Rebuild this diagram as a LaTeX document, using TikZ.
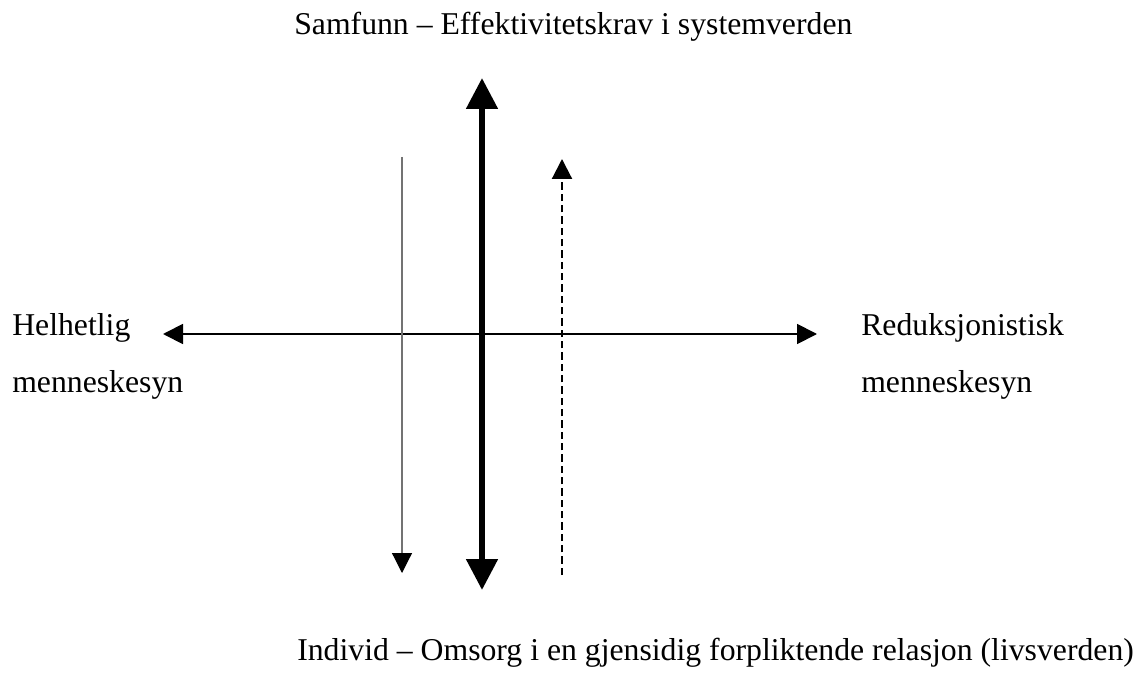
\documentclass[tikz,border=0pt]{standalone}
\usepackage{fontspec}
\setmainfont{Liberation Serif}
\usetikzlibrary{arrows.meta}
\begin{document}
\begin{tikzpicture}[x=0.75pt,y=-0.75pt,
  lbl/.style={anchor=base west,inner sep=0pt,font=\fontsize{23.8}{28}\selectfont}]
\useasboundingbox (0,0) rectangle (1142,681);
% labels
\node[lbl] (top) at (294,35) {Samfunn – Effektivitetskrav i systemverden};
\node[lbl] (bot) at (297,660) {Individ – Omsorg i en gjensidig forpliktende relasjon (livsverden)};
\node[lbl] (hl1) at (12,335) {Helhetlig};
\node[lbl] (hl2) at (12,392) {menneskesyn};
\node[lbl] (rl1) at (861,335) {Reduksjonistisk};
\node[lbl] (rl2) at (861,392) {menneskesyn};
% coordinates
\coordinate (vt) at (482,78);
\coordinate (vb) at (482,590);
\coordinate (hl) at (163,334);
\coordinate (hr) at (817,334);
\coordinate (tt) at (402,157);
\coordinate (tb) at (402,573);
\coordinate (dt) at (562,159);
\coordinate (db) at (562,575);
% arrows
\draw[line width=4.5pt,{Triangle[length=23.25pt,width=23pt]}-{Triangle[length=23.25pt,width=23pt]}] (vb) -- (vt);
\draw[line width=1.4pt,{Triangle[length=15pt,width=15pt]}-{Triangle[length=15pt,width=15pt]}] (hl) -- (hr);
\draw[line width=0.9pt,black!55,-{Triangle[length=15pt,width=15pt,fill=black,color=black]}] (tt) -- (tb);
\draw[line width=1.6pt,dash pattern=on 5.5pt off 3pt,-{Triangle[length=15pt,width=15pt]}] (db) -- (dt);
\end{tikzpicture}
\end{document}
